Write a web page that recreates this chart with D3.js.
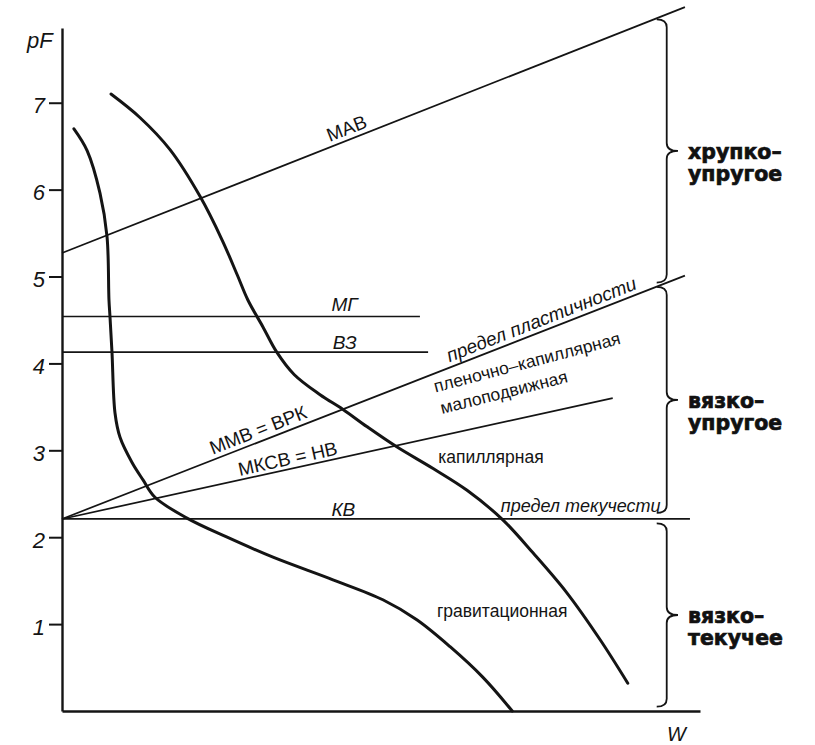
<!DOCTYPE html>
<html>
<head>
<meta charset="utf-8">
<script src="https://cdn.jsdelivr.net/npm/d3@7/dist/d3.min.js"></script>
<style>
  html, body { margin: 0; padding: 0; background: #ffffff; }
  svg { display: block; }
  .lbl { font-family: "Liberation Sans Narrow", "Liberation Sans", Arial, sans-serif; fill: #141414; }
  .zone { font-family: "DejaVu Sans", sans-serif; font-weight: bold; fill: #111; stroke: #111; stroke-width: 0.7px; }
</style>
</head>
<body>
<svg id="chart" width="815" height="745"></svg>
<script>
// pF axis ticks
const pfTicks = [1, 2, 3, 4, 5, 6, 7];

// Straight boundary lines, [W, pF]
const lineMAB = [[0, 5.27], [99.2, 8.10]];
const lineMG = [[0, 4.54], [57.0, 4.54]];
const lineVZ = [[0, 4.13], [58.3, 4.13]];
const lineKV = [[0, 2.21], [100.0, 2.21]];
const linePlastic = [[0, 2.21], [99.2, 5.01]];
const lineMKSV = [[0, 2.21], [87.7, 3.60]];

// Water retention curves, [W, pF]
const curveLeft = [
  [1.9, 6.70], [4.0, 6.45], [6.05, 5.96], [7.17, 5.46], [7.48, 4.73], [7.64, 4.54],
  [7.96, 4.13], [8.44, 3.43], [9.24, 3.15], [11.15, 2.86], [12.9, 2.66], [14.8, 2.46],
  [19.9, 2.22], [26.3, 2.00], [33.6, 1.77], [43.15, 1.51], [51.1, 1.28], [56.5, 1.05],
  [61.8, 0.74], [67.0, 0.39], [71.7, 0.0]
];
const curveRight = [
  [7.8, 7.10], [12.4, 6.83], [17.2, 6.46], [22.0, 5.92], [25.5, 5.42], [27.9, 5.02],
  [29.6, 4.73], [32.0, 4.42], [34.2, 4.13], [37.0, 3.87], [41.1, 3.64], [44.75, 3.47],
  [48.6, 3.27], [53.3, 3.04], [59.1, 2.79], [64.5, 2.54], [70.2, 2.20], [75.0, 1.82],
  [80.4, 1.36], [85.7, 0.82], [90.1, 0.32]
];

// Consistency zones (brace spans in pF)
const zoneTop = [7.96, 4.88, 2.16];
const zoneBottom = [4.93, 2.28, 0.05];
const zoneLines1 = ["хрупко–", "вязко–", "вязко–"];
const zoneLines2 = ["упругое", "упругое", "текучее"];

const svg = d3.select("#chart");
const x = d3.scaleLinear().domain([0, 101.6]).range([62, 700]);
const y = d3.scaleLinear().domain([0, 7.86]).range([711, 28]);
const ink = "#141414";

// Axes
const yAxis = svg.append("g").attr("transform", `translate(${x(0)},0)`)
  .call(d3.axisLeft(y).tickValues(pfTicks).tickSize(13).tickPadding(4).tickSizeOuter(0).tickFormat(d3.format("d")));
yAxis.select(".domain").attr("stroke", ink).attr("stroke-width", 2.4);
yAxis.selectAll(".tick line").attr("stroke", ink).attr("stroke-width", 2);
yAxis.selectAll(".tick text")
  .attr("fill", ink)
  .attr("dy", "0.45em")
  .style("font-family", "'Liberation Sans', Arial, sans-serif")
  .style("font-style", "italic")
  .style("font-size", "22px");

const xAxis = svg.append("g").attr("transform", `translate(0,${y(0)})`)
  .call(d3.axisBottom(x).tickValues([]).tickSizeOuter(0));
xAxis.select(".domain").attr("stroke", ink).attr("stroke-width", 2.4);

svg.append("text").attr("class", "lbl").attr("x", 27).attr("y", 48)
  .style("font-family", "'Liberation Sans', Arial, sans-serif")
  .style("font-style", "italic").style("font-size", "22px").text("pF");
svg.append("text").attr("class", "lbl").attr("x", 667).attr("y", 741)
  .style("font-family", "'Liberation Sans', Arial, sans-serif")
  .style("font-style", "italic").style("font-size", "20px").text("W");

// Straight lines
const straight = d3.line().x(d => x(d[0])).y(d => y(d[1]));
[lineMAB, lineMG, lineVZ, lineKV, linePlastic, lineMKSV].forEach(l => {
  svg.append("path").attr("d", straight(l)).attr("fill", "none")
    .attr("stroke", ink).attr("stroke-width", 1.7);
});

// Curves
const smooth = d3.line().x(d => x(d[0])).y(d => y(d[1])).curve(d3.curveCatmullRom.alpha(0.5));
[curveLeft, curveRight].forEach(c => {
  svg.append("path").attr("d", smooth(c)).attr("fill", "none")
    .attr("stroke", ink).attr("stroke-width", 3).attr("stroke-linecap", "round");
});

// Angle of a line in screen space
function angleOf(l) {
  const dx = x(l[1][0]) - x(l[0][0]);
  const dy = y(l[1][1]) - y(l[0][1]);
  return Math.atan2(dy, dx) * 180 / Math.PI;
}
// Text riding a line: placed at W, offset above the line
function onLine(l, w, off, txt, size, italic) {
  const t = (w - l[0][0]) / (l[1][0] - l[0][0]);
  const pf = l[0][1] + t * (l[1][1] - l[0][1]);
  const a = angleOf(l);
  svg.append("text").attr("class", "lbl")
    .attr("transform", `translate(${x(w)},${y(pf)}) rotate(${a}) translate(0,${-off})`)
    .attr("text-anchor", "middle")
    .style("font-size", size + "px")
    .style("font-style", italic ? "italic" : "normal")
    .text(txt);
}
function plain(w, pf, txt, size, italic, angle) {
  svg.append("text").attr("class", "lbl")
    .attr("transform", `translate(${x(w)},${y(pf)}) rotate(${angle || 0})`)
    .attr("text-anchor", "middle")
    .style("font-size", size + "px")
    .style("font-style", italic ? "italic" : "normal")
    .text(txt);
}

onLine(lineMAB, 46.0, 5, "МАВ", 19, false);
onLine(lineMG, 45.0, 5, "МГ", 19, true);
onLine(lineVZ, 45.0, 3, "ВЗ", 19, true);
onLine(lineKV, 44.8, 3, "КВ", 19, true);
onLine(linePlastic, 31.9, 5, "ММВ = ВРК", 19, false);
onLine(lineMKSV, 36.3, 4, "МКСВ = НВ", 19, false);
onLine(linePlastic, 77.0, 5, "предел пластичности", 19, true);
plain(74.3, (711 - 368) / 86.9, "пленочно–капиллярная", 17.5, false, -14.7);
plain(70.6, (711 - 398) / 86.9, "малоподвижная", 17.5, false, -14.2);
plain(68.3, (711 - 463) / 86.9, "капиллярная", 17.5, false, 0);
plain(82.6, (711 - 512) / 86.9, "предел текучести", 18, true, 0);
plain(70.1, (711 - 617) / 86.9, "гравитационная", 17.5, false, 0);

// Braces for consistency zones
const bx = x(96.3), tipX = 678;
zoneTop.forEach((top, i) => {
  const y0 = y(top), y1 = y(zoneBottom[i]), ym = (y0 + y1) / 2;
  const r = 8;
  const p = d3.path();
  p.moveTo(bx - 10, y0);
  p.quadraticCurveTo(bx, y0, bx, y0 + r);
  p.lineTo(bx, ym - r);
  p.quadraticCurveTo(bx, ym, tipX, ym);
  p.quadraticCurveTo(bx, ym, bx, ym + r);
  p.lineTo(bx, y1 - r);
  p.quadraticCurveTo(bx, y1, bx - 10, y1);
  svg.append("path").attr("d", p.toString()).attr("fill", "none")
    .attr("stroke", ink).attr("stroke-width", 1.8);

  const g = svg.append("g").attr("class", "zone").style("font-size", "20.5px");
  g.append("text").attr("x", 688).attr("y", ym + 8).text(zoneLines1[i]);
  g.append("text").attr("x", 688).attr("y", ym + 30).text(zoneLines2[i]);
});
</script>
</body>
</html>
